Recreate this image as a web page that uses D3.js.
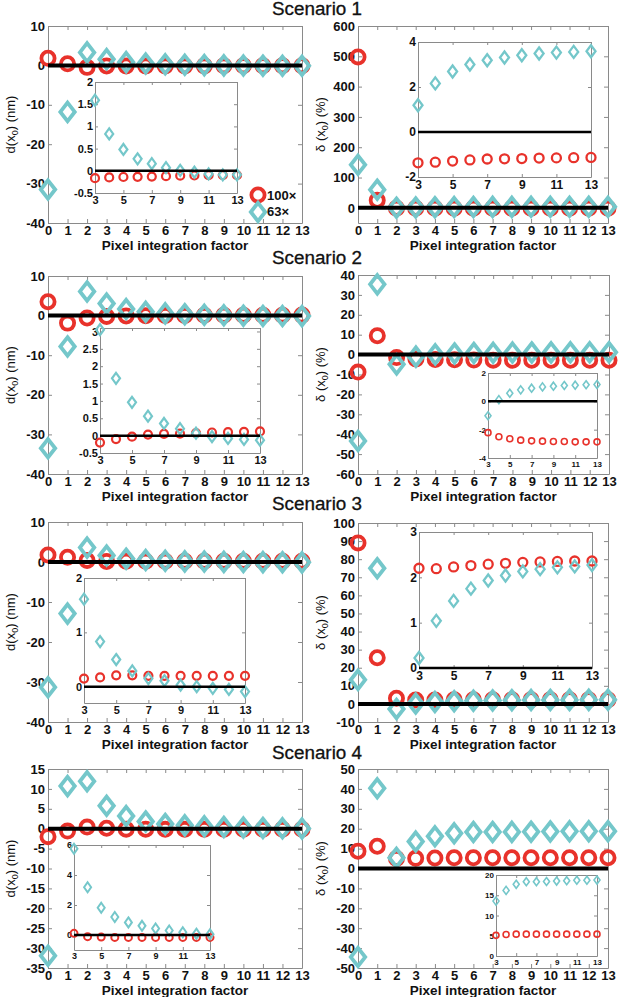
<!DOCTYPE html>
<html><head><meta charset="utf-8">
<script src="https://cdn.jsdelivr.net/npm/d3@7"></script>
<style>body{margin:0;background:#fff}svg{display:block}text{font-family:"Liberation Sans",Arial,sans-serif}</style>
</head><body><svg id="c" width="621" height="997"></svg>
<script>
// ---------- data ----------
const factors = [0,1,2,3,4,5,6,7,8,9,10,11,12,13];
const insetFactors = [3,4,5,6,7,8,9,10,11,12,13];
const scenarioTitles = ["Scenario 1","Scenario 2","Scenario 3","Scenario 4"];
const seriesNames = ["100×","63×"];

const s1d100 = [1.8, 0.4, -0.5, -0.165, -0.15, -0.14, -0.135, -0.13, -0.12, -0.11, -0.105, -0.1, -0.1, -0.1];
const s1d63  = [-31.5, -11.8, 3.3, 1.59, 0.83, 0.48, 0.27, 0.16, 0.07, 0.01, -0.03, -0.07, -0.09, -0.09];
const s1p100 = [498, 25, -1.5, -1.37, -1.34, -1.29, -1.24, -1.2, -1.19, -1.18, -1.16, -1.15, -1.14, -1.13];
const s1p63  = [142, 60, 0.5, 1.19, 2.16, 2.69, 3.0, 3.19, 3.31, 3.41, 3.49, 3.53, 3.56, 3.59];

const s2d100 = [3.5, -1.9, -0.6, -0.2, -0.1, -0.03, 0.03, 0.05, 0.06, 0.07, 0.09, 0.1, 0.11, 0.12];
const s2d63  = [-33.5, -7.8, 6.1, 3.05, 1.65, 0.96, 0.56, 0.35, 0.2, 0.07, -0.03, -0.08, -0.11, -0.13];
const s2p100 = [-8.8, 9.5, -1.5, -2.21, -2.5, -2.64, -2.74, -2.79, -2.81, -2.83, -2.84, -2.86, -2.86, -2.86];
const s2p63  = [-43.4, 35.3, -4.9, -1.02, 0.12, 0.57, 0.81, 0.93, 1.02, 1.07, 1.12, 1.14, 1.17, 1.19];

const s3d100 = [1.75, 1.2, 0.4, 0.15, 0.17, 0.21, 0.21, 0.2, 0.2, 0.2, 0.2, 0.2, 0.2, 0.2];
const s3d63  = [-31.3, -12.9, 3.6, 1.61, 0.83, 0.5, 0.29, 0.15, 0.11, 0.03, 0, -0.03, -0.05, -0.09];
const s3p100 = [89, 25.5, 3.1, 2.2, 2.19, 2.23, 2.26, 2.29, 2.31, 2.33, 2.34, 2.35, 2.36, 2.36];
const s3p63  = [13.3, 75, -2.8, 0.22, 1.04, 1.48, 1.75, 1.93, 2.04, 2.13, 2.18, 2.22, 2.24, 2.27];

const s4d100 = [-2.0, -0.6, 0.4, 0.11, -0.11, -0.14, -0.16, -0.16, -0.16, -0.16, -0.16, -0.16, -0.16, -0.16];
const s4d63  = [-31.9, 10.7, 11.9, 5.75, 3.18, 1.82, 1.2, 0.84, 0.61, 0.43, 0.3, 0.18, 0.09, 0.05];
const s4p100 = [8.7, 11.2, 5.0, 5.1, 5.3, 5.4, 5.4, 5.4, 5.4, 5.4, 5.4, 5.4, 5.4, 5.4];
const s4p63  = [-44.5, 40.3, 5.4, 13.55, 16.2, 17.7, 18.35, 18.35, 18.4, 18.5, 18.6, 18.7, 18.7, 18.75];

const ticksD1 = [-40,-30,-20,-10,0,10];
const ticksD4 = [-35,-30,-25,-20,-15,-10,-5,0,5,10,15];
const ticksP1 = [0,100,200,300,400,500,600];
const ticksP2 = [-60,-50,-40,-30,-20,-10,0,10,20,30,40];
const ticksP3 = [-10,0,10,20,30,40,50,60,70,80,90,100];
const ticksP4 = [-50,-40,-30,-20,-10,0,10,20,30,40,50];
const insetXTicks = [3,5,7,9,11,13];
const insetTicks1L = [-0.5,0,0.5,1,1.5,2];
const insetTicks1R = [-2,0,2,4];
const insetTicks2L = [-0.5,0,0.5,1,1.5,2,2.5,3];
const insetTicks2R = [-4,-2,0,2];
const insetTicks3L = [0,1,2];
const insetTicks3R = [0,1,2,3];
const insetTicks4L = [0,2,4,6];
const insetTicks4R = [0,5,10,15,20];

// ---------- layout ----------
const RED = "#e8322b", CYAN = "#74c7ca";
const svg = d3.select("#c");

const panels = [
 {a:s1d100,b:s1d63, x0:48,x1:302,y0:26,y1:223, dom:[-40,10], ticks:ticksD1, lab:"d",
  ins:{x0:95,x1:237,y0:82,y1:193,dom:[-0.5,2],ticks:insetTicks1L,fs:11,r:4,sw:2.2,dw:4,dh:5.5,zero:true}},
 {a:s1p100,b:s1p63, x0:358,x1:608,y0:26,y1:223, dom:[-50,600], ticks:ticksP1, lab:"p",
  ins:{x0:418,x1:591,y0:42,y1:177,dom:[-2,4],ticks:insetTicks1R,fs:12,r:4.5,sw:2.3,dw:4.5,dh:6,zero:true}},
 {a:s2d100,b:s2d63, x0:48,x1:302,y0:276,y1:474, dom:[-40,10], ticks:ticksD1, lab:"d",
  ins:{x0:100,x1:260,y0:328,y1:453,dom:[-0.5,3.1],ticks:insetTicks2L,fs:11,r:4,sw:2.2,dw:4,dh:5.5,zero:true}},
 {a:s2p100,b:s2p63, x0:358,x1:609,y0:275,y1:474, dom:[-60,40], ticks:ticksP2, lab:"p",
  ins:{x0:488,x1:597,y0:373,y1:458,dom:[-4,2],ticks:insetTicks2R,fs:8,r:3,sw:1.6,dw:3,dh:4,zero:true}},
 {a:s3d100,b:s3d63, x0:48,x1:302,y0:522,y1:722, dom:[-40,10], ticks:ticksD1, lab:"d",
  ins:{x0:84,x1:245,y0:578,y1:703,dom:[-0.3,2],ticks:insetTicks3L,fs:11,r:4,sw:2.2,dw:4,dh:5.5,zero:true}},
 {a:s3p100,b:s3p63, x0:358,x1:608,y0:523,y1:722, dom:[-10,100], ticks:ticksP3, lab:"p",
  ins:{x0:419,x1:592,y0:532,y1:668,dom:[0,3],ticks:insetTicks3R,fs:12,r:4.5,sw:2.3,dw:4.5,dh:6,zero:true}},
 {a:s4d100,b:s4d63, x0:48,x1:302,y0:769,y1:968, dom:[-35,15], ticks:ticksD4, lab:"d",
  ins:{x0:74,x1:210,y0:845,y1:950,dom:[-1,6],ticks:insetTicks4L,fs:9,r:3.5,sw:2,dw:3.5,dh:5,zero:true}},
 {a:s4p100,b:s4p63, x0:358,x1:608,y0:769,y1:968, dom:[-50,50], ticks:ticksP4, lab:"p",
  ins:{x0:496,x1:597,y0:875,y1:956,dom:[0,20],ticks:insetTicks4R,fs:8,r:3,sw:1.6,dw:3,dh:4,zero:false}}
];
const titleY = [15, 264, 510, 759];

function diamond(cx, cy, w, h){ return `M${cx},${cy-h}L${cx+w},${cy}L${cx},${cy+h}L${cx-w},${cy}Z`; }

function styleAxis(sel, fs, showText){
  sel.select(".domain").attr("stroke","#8a8a8a").attr("stroke-width",1);
  sel.selectAll(".tick line").attr("stroke","#8a8a8a");
  sel.selectAll(".tick text").attr("font-size",fs).attr("font-weight","bold").attr("fill","#111")
     .style("font-family","'Liberation Sans',Arial,sans-serif");
  if(!showText) sel.selectAll(".tick text").remove();
}

function markers(g, x, y, xs, a, b, r, sw, dw, dh){
  g.append("g").selectAll("circle").data(xs).join("circle")
    .attr("cx", d=>x(d)).attr("cy", (d,i)=>y(a[i])).attr("r", r)
    .attr("fill","none").attr("stroke",RED).attr("stroke-width",sw);
  g.append("g").selectAll("path").data(xs).join("path")
    .attr("d",(d,i)=>diamond(x(d), y(b[i]), dw, dh))
    .attr("fill","none").attr("stroke",CYAN).attr("stroke-width",sw).attr("stroke-linejoin","miter");
}

panels.forEach((p, k) => {
  const g = svg.append("g");
  const x = d3.scaleLinear().domain([factors[0], factors[factors.length-1]]).range([p.x0, p.x1]);
  const y = d3.scaleLinear().domain(p.dom).range([p.y1, p.y0]);
  const T = 4;
  g.append("g").attr("transform",`translate(0,${p.y1})`)
    .call(d3.axisBottom(x).tickValues(factors).tickSizeInner(-T).tickSizeOuter(0).tickPadding(3))
    .call(s=>styleAxis(s,13,true));
  g.append("g").attr("transform",`translate(0,${p.y0})`)
    .call(d3.axisTop(x).tickValues(factors).tickSizeInner(-T).tickSizeOuter(0))
    .call(s=>styleAxis(s,13,false));
  g.append("g").attr("transform",`translate(${p.x0},0)`)
    .call(d3.axisLeft(y).tickValues(p.ticks).tickSizeInner(-T).tickSizeOuter(0).tickPadding(3).tickFormat(v=>String(v)))
    .call(s=>styleAxis(s,13,true));
  g.append("g").attr("transform",`translate(${p.x1},0)`)
    .call(d3.axisRight(y).tickValues(p.ticks).tickSizeInner(-T).tickSizeOuter(0))
    .call(s=>styleAxis(s,13,false));

  markers(g, x, y, factors, p.a, p.b, 6.6, 3.8, 7.2, 9.2);
  g.append("line").attr("x1",x(factors[0])).attr("x2",x(factors[factors.length-1]))
    .attr("y1",y(0)).attr("y2",y(0)).attr("stroke","#000").attr("stroke-width",4);

  // x title
  g.append("text").attr("x",(p.x0+p.x1)/2).attr("y",p.y1+27).attr("text-anchor","middle")
    .attr("font-size",13.5).attr("font-weight","bold").attr("fill","#111").text("Pixel integration factor");
  // y title
  const yl = g.append("text").attr("transform",`translate(${p.x0-33},${(p.y0+p.y1)/2}) rotate(-90)`)
    .attr("text-anchor","middle").attr("font-size",13).attr("fill","#111");
  if(p.lab==="d"){
    yl.append("tspan").text("d(x");
    yl.append("tspan").attr("font-size",9).attr("dy",3).text("0");
    yl.append("tspan").attr("dy",-3).text(") (nm)");
  } else {
    yl.append("tspan").text("δ (x");
    yl.append("tspan").attr("font-size",9).attr("dy",3).text("0");
    yl.append("tspan").attr("dy",-3).text(") (%)");
  }

  // inset
  const q = p.ins;
  const gi = g.append("g");
  gi.append("rect").attr("x",q.x0).attr("y",q.y0).attr("width",q.x1-q.x0).attr("height",q.y1-q.y0)
    .attr("fill","#fff").attr("stroke","none");
  const xi = d3.scaleLinear().domain([insetFactors[0], insetFactors[insetFactors.length-1]]).range([q.x0,q.x1]);
  const yi = d3.scaleLinear().domain(q.dom).range([q.y1,q.y0]);
  const t2 = 3;
  gi.append("g").attr("transform",`translate(0,${q.y1})`)
    .call(d3.axisBottom(xi).tickValues(insetXTicks).tickSizeInner(-t2).tickSizeOuter(0).tickPadding(3))
    .call(s=>styleAxis(s,q.fs,true));
  gi.append("g").attr("transform",`translate(0,${q.y0})`)
    .call(d3.axisTop(xi).tickValues(insetXTicks).tickSizeInner(-t2).tickSizeOuter(0))
    .call(s=>styleAxis(s,q.fs,false));
  gi.append("g").attr("transform",`translate(${q.x0},0)`)
    .call(d3.axisLeft(yi).tickValues(q.ticks).tickSizeInner(-t2).tickSizeOuter(0).tickPadding(2).tickFormat(v=>String(v)))
    .call(s=>styleAxis(s,q.fs,true));
  gi.append("g").attr("transform",`translate(${q.x1},0)`)
    .call(d3.axisRight(yi).tickValues(q.ticks).tickSizeInner(-t2).tickSizeOuter(0))
    .call(s=>styleAxis(s,q.fs,false));
  markers(gi, xi, yi, insetFactors, p.a.slice(3), p.b.slice(3), q.r, q.sw, q.dw, q.dh);
  if(q.zero){
    gi.append("line").attr("x1",q.x0).attr("x2",q.x1).attr("y1",yi(0)).attr("y2",yi(0))
      .attr("stroke","#000").attr("stroke-width",2.5);
  }
});

// scenario titles
scenarioTitles.forEach((t,i)=>{
  svg.append("text").attr("x",272).attr("y",titleY[i]).attr("font-size",18)
    .attr("textLength",90).attr("lengthAdjust","spacingAndGlyphs").attr("fill","#111")
    .attr("stroke","#111").attr("stroke-width",0.3).text(t);
});

// legend (scenario 1, left panel)
const lg = svg.append("g").attr("font-size",13).attr("font-weight","bold").attr("fill","#111");
lg.append("circle").attr("cx",258).attr("cy",195).attr("r",6.6).attr("fill","none").attr("stroke",RED).attr("stroke-width",3.8);
lg.append("path").attr("d",diamond(258,212,7.2,9.2)).attr("fill","none").attr("stroke",CYAN).attr("stroke-width",3.8);
lg.append("text").attr("x",267).attr("y",200).text(seriesNames[0]);
lg.append("text").attr("x",267).attr("y",216).text(seriesNames[1]);
</script></body></html>
